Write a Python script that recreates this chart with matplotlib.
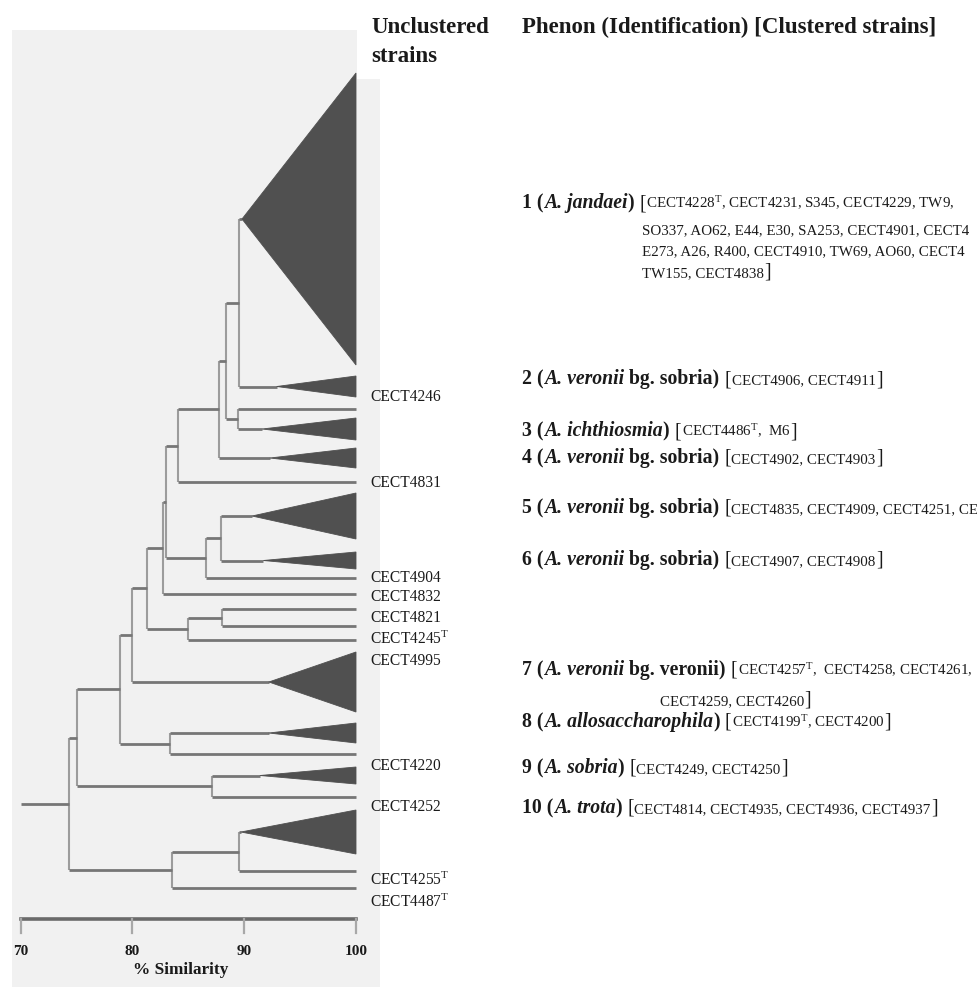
import matplotlib
matplotlib.use('Agg')
import matplotlib.pyplot as plt
from matplotlib.patches import Polygon, Rectangle
from matplotlib.transforms import Affine2D

plt.rcParams['font.family'] = ['Liberation Serif', 'DejaVu Serif']
plt.rcParams['mathtext.fontset'] = 'custom'
plt.rcParams['mathtext.rm'] = 'Liberation Serif'
plt.rcParams['mathtext.it'] = 'Liberation Serif:italic'
plt.rcParams['mathtext.bf'] = 'Liberation Serif:bold'

# ------------------------------------------------------------------ data
# leaf order (top to bottom); 'P#' = collapsed phenon, others = unclustered strains
leaves = ['P1', 'P2', 'CECT4246', 'P3', 'P4', 'CECT4831', 'P5', 'P6', 'CECT4904',
          'CECT4832', 'CECT4821', 'CECT4245T', 'CECT4995', 'P7', 'P8', 'CECT4220',
          'P9', 'CECT4252', 'P10', 'CECT4255T', 'CECT4487T']
# vertical leaf positions (row units, top = 0)
leaf_pos = [21.9, 38.65, 40.9, 42.9, 45.8, 48.2, 51.6, 56.05, 57.8,
            59.4, 60.9, 62.6, 64.0, 68.2, 73.3, 75.4,
            77.55, 79.7, 83.2, 87.1, 88.8]

# phenon (collapsed cluster) similarity levels and vertical spread
phenon_ids = ['P1', 'P2', 'P3', 'P4', 'P5', 'P6', 'P7', 'P8', 'P9', 'P10']
phenon_sim = [89.8, 92.9, 91.6, 92.3, 90.7, 91.7, 92.2, 92.2, 91.4, 89.7]
phenon_spread = [14.6, 1.05, 1.1, 1.0, 2.3, 0.85, 3.0, 1.0, 0.85, 2.2]

# merges: (node, child_a, child_b, % similarity)
merges = [
    ('Na', 'P1', 'P2', 89.5),
    ('Nb', 'CECT4246', 'P3', 89.4),
    ('Nc', 'Na', 'Nb', 88.4),
    ('Nd', 'Nc', 'P4', 87.7),
    ('Ne', 'Nd', 'CECT4831', 84.1),
    ('Nf', 'P5', 'P6', 87.9),
    ('Ng', 'Nf', 'CECT4904', 86.6),
    ('Nh', 'Ne', 'Ng', 83.0),
    ('Ni', 'Nh', 'CECT4832', 82.7),
    ('Nj', 'CECT4821', 'CECT4245T', 88.0),
    ('Nk', 'Nj', 'CECT4995', 85.0),
    ('Nl', 'Ni', 'Nk', 81.3),
    ('Nm', 'Nl', 'P7', 80.0),
    ('Nn', 'P8', 'CECT4220', 83.4),
    ('No', 'Nm', 'Nn', 78.9),
    ('Np', 'P9', 'CECT4252', 87.1),
    ('Nq', 'No', 'Np', 75.0),
    ('Nr', 'P10', 'CECT4255T', 89.5),
    ('Ns', 'Nr', 'CECT4487T', 83.5),
    ('Root', 'Nq', 'Ns', 74.3),
]

x_ticks = [70, 80, 90, 100]
x_label = '% Similarity'

unclustered_labels = ['CECT4246', 'CECT4831', 'CECT4904', 'CECT4832', 'CECT4821',
                      r'CECT4245$^{\mathrm{T}}$', 'CECT4995', 'CECT4220', 'CECT4252',
                      r'CECT4255$^{\mathrm{T}}$', r'CECT4487$^{\mathrm{T}}$']

phenon_species = ['A. jandaei', 'A. veronii', 'A. ichthiosmia', 'A. veronii', 'A. veronii',
                  'A. veronii', 'A. veronii', 'A. allosaccharophila', 'A. sobria', 'A. trota']
phenon_biogroup = ['', 'bg. sobria', '', 'bg. sobria', 'bg. sobria', 'bg. sobria',
                   'bg. veronii', '', '', '']
phenon_strains = [
    [r'CECT4228$^{\mathrm{T}}$, CECT4231, S345, CECT4229, TW9,',
     'SO337, AO62, E44, E30, SA253, CECT4901, CECT4',
     'E273, A26, R400, CECT4910, TW69, AO60, CECT4',
     'TW155, CECT4838'],
    ['CECT4906, CECT4911'],
    [r'CECT4486$^{\mathrm{T}}$,  M6'],
    ['CECT4902, CECT4903'],
    ['CECT4835, CECT4909, CECT4251, CE'],
    ['CECT4907, CECT4908'],
    [r'CECT4257$^{\mathrm{T}}$,  CECT4258, CECT4261,', 'CECT4259, CECT4260'],
    [r'CECT4199$^{\mathrm{T}}$, CECT4200'],
    ['CECT4249, CECT4250'],
    ['CECT4814, CECT4935, CECT4936, CECT4937'],
]
# lines that run past the right edge in the reference (no closing bracket shown)
open_ended = [4]

# ------------------------------------------------------------------ layout
W, H = 978, 989
fig = plt.figure(figsize=(W / 100, H / 100), dpi=100)
fig.patch.set_facecolor('white')
ax = fig.add_axes([0, 0, 1, 1])
px_per_unit = (356.0 - 20.7) / 30.0
ax.set_xlim(70 - 20.7 / px_per_unit, 70 + (W - 20.7) / px_per_unit)
ax.set_ylim(H / 10.0, 0)
ax.axis('off')

# pixel transform for page layout (background, text)
pxT = Affine2D().scale(1.0 / W, -1.0 / H).translate(0, 1) + fig.transFigure

BG = '#f1f1f1'
fig.patches.append(Rectangle((12, 30), 345, 50, transform=pxT, facecolor=BG,
                             edgecolor='none', zorder=0))
fig.patches.append(Rectangle((12, 79), 368, 908, transform=pxT, facecolor=BG,
                             edgecolor='none', zorder=0))
ax.set_zorder(1)
ax.patch.set_alpha(0)

HCOL = '#767676'
VCOL = '#9c9c9c'
TRI = '#505050'

pos = dict(zip(leaves, leaf_pos))
level = {name: 100.0 for name in leaves}
for pid, s in zip(phenon_ids, phenon_sim):
    level[pid] = s

# triangles for phenons
for pid, s, sp in zip(phenon_ids, phenon_sim, phenon_spread):
    y = pos[pid]
    ax.add_patch(Polygon([(s, y), (100, y - sp), (100, y + sp)], closed=True,
                         facecolor=TRI, edgecolor=TRI, lw=0.6, zorder=3))

# dendrogram lines
for node, a, b, s in merges:
    ya, yb = pos[a], pos[b]
    ax.plot([s, s], [ya, yb], color=VCOL, lw=1.5, solid_capstyle='butt', zorder=2)
    ax.plot([s, level[a]], [ya, ya], color=HCOL, lw=2.0, solid_capstyle='butt', zorder=2)
    ax.plot([s, level[b]], [yb, yb], color=HCOL, lw=2.0, solid_capstyle='butt', zorder=2)
    pos[node] = (ya + yb) / 2.0
    level[node] = s
root = merges[-1][0]
ax.plot([x_ticks[0], level[root]], [pos[root], pos[root]], color=HCOL, lw=2.0,
        solid_capstyle='butt', zorder=2)

# similarity scale bar
bar_y, tick_len = 91.9, 1.4
ax.plot([x_ticks[0], x_ticks[-1]], [bar_y, bar_y], color='#6a6a6a', lw=2.6, zorder=2)
for t in x_ticks:
    ax.plot([t, t], [bar_y, bar_y + tick_len], color='#a8a8a8', lw=1.6, zorder=2)
    ax.text(t, 95.5, str(t), ha='center', va='baseline', fontsize=11,
            fontweight='bold', color='#1a1a1a')
ax.text(84.3, 97.4, x_label, ha='center', va='baseline', fontsize=12.4,
        fontweight='bold', color='#1a1a1a')

# ------------------------------------------------------------------ text
TXT = '#1a1a1a'
HDR = 16.5
fig.text(371, 33, 'Unclustered', transform=pxT, fontsize=HDR, fontweight='bold',
         va='baseline', color=TXT)
fig.text(371, 62, 'strains', transform=pxT, fontsize=HDR, fontweight='bold',
         va='baseline', color=TXT)
fig.text(522, 33, 'Phenon (Identification) [Clustered strains]', transform=pxT,
         fontsize=HDR, fontweight='bold', va='baseline', color=TXT)

label_baselines = [401, 487, 582, 601, 622, 644, 665, 770, 811, 885, 907]
for lab, yb in zip(unclustered_labels, label_baselines):
    fig.text(370, yb, lab, transform=pxT, fontsize=11.2, va='baseline', color=TXT)

renderer = fig.canvas.get_renderer()
LBL = 14.2
B = dict(fontsize=LBL, fontweight='bold')
BI = dict(fontsize=LBL, fontweight='bold', fontstyle='italic')
R = dict(fontsize=LBL)
S = dict(fontsize=10.8)


def put_runs(x0, y0, runs):
    x = x0
    for txt, style in runs:
        lead = len(txt) - len(txt.lstrip(' '))
        x += lead * 0.25 * style['fontsize'] * 100 / 72.0
        t = fig.text(x, y0, txt.strip(' '), transform=pxT, va='baseline',
                     ha='left', color=TXT, **style)
        bb = t.get_window_extent(renderer)
        x = bb.x1 + 0.3


phenon_baselines = [[208, 234, 255, 277], [384], [436], [463], [513], [565],
                    [675, 705], [727], [773], [813]]
cont_x = {0: 642, 6: 660}
for i in range(len(phenon_ids)):
    lines = phenon_strains[i]
    bl = phenon_baselines[i]
    tail = (' ' + phenon_biogroup[i] + ')') if phenon_biogroup[i] else ')'
    for j, line in enumerate(lines):
        runs = []
        if j == 0:
            runs += [(f'{i + 1} (', B), (phenon_species[i], BI), (tail, B), (' [', R)]
        runs.append((line, S))
        if j == len(lines) - 1 and i not in open_ended:
            runs.append((']', R))
        put_runs(522 if j == 0 else cont_x.get(i, 642), bl[j], runs)

fig.savefig('out.png', dpi=100, facecolor='white')
